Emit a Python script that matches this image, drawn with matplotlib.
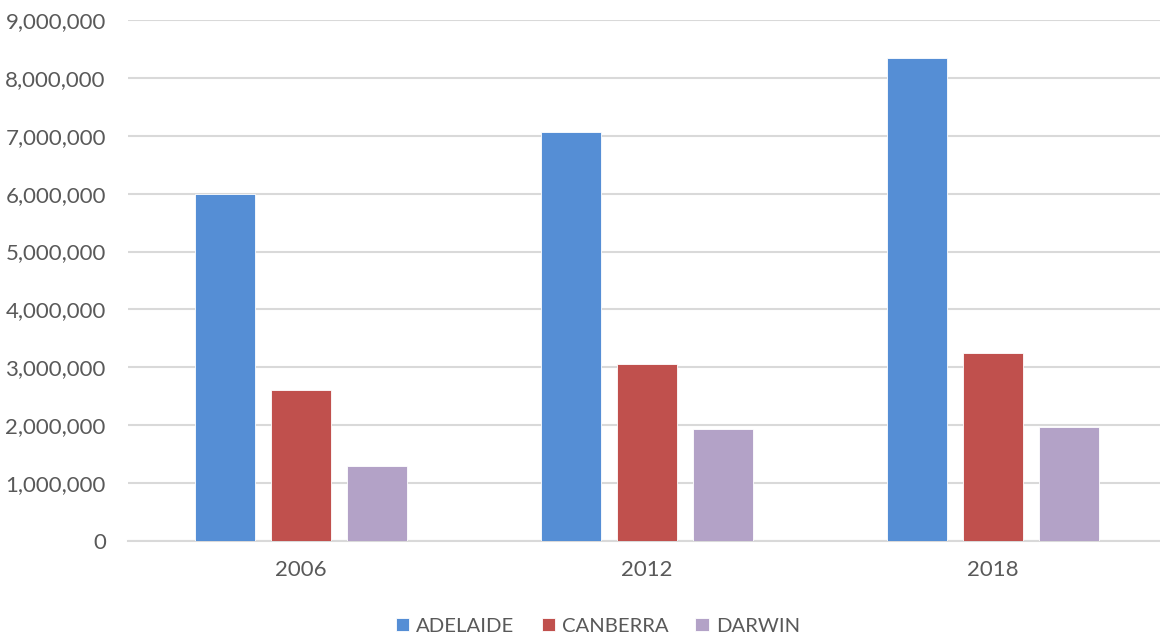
import matplotlib.pyplot as plt
import numpy as np
from matplotlib.ticker import FuncFormatter

years = ["2006", "2012", "2018"]
adelaide = [5990000, 7064000, 8346000]
canberra = [2606000, 3064000, 3250000]
darwin = [1300000, 1940000, 1970000]

series = [("ADELAIDE", adelaide, "#558ed5"),
          ("CANBERRA", canberra, "#c0504d"),
          ("DARWIN", darwin, "#b3a2c7")]

plt.rcParams['font.family'] = ['Lato', 'DejaVu Sans']
grey = "#595959"

fig = plt.figure(figsize=(11.6, 6.37), dpi=100)
ax = fig.add_axes([128 / 1160, 96 / 637, 1038 / 1160, 521 / 637])

x = np.arange(len(years))
w = 0.1735
step = 0.221
for i, (name, vals, col) in enumerate(series):
    ax.bar(x + (i - 1) * step, vals, w, color=col, label=name,
           edgecolor="white", linewidth=0.6, zorder=3)

ax.set_xlim(-0.5, 2.5)
ax.set_ylim(0, 9000000)
ax.set_yticks(np.arange(0, 9000001, 1000000))
ax.yaxis.set_major_formatter(FuncFormatter(lambda v, p: f"{int(v):,}"))
ax.set_xticks(x)
ax.set_xticklabels(years)
ax.grid(axis="y", color="#d9d9d9", linewidth=1.5, zorder=0)
for s in ["top", "right", "left"]:
    ax.spines[s].set_visible(False)
ax.spines["bottom"].set_color("#d9d9d9")
ax.spines["bottom"].set_linewidth(1.5)
ax.tick_params(axis="both", length=0, labelsize=16, labelcolor=grey)
ax.tick_params(axis="y", pad=16)
ax.tick_params(axis="x", pad=14)

leg = fig.legend(loc="center", bbox_to_anchor=(598 / 1160, 11 / 637), ncol=3,
                 frameon=False, fontsize=14.6, handlelength=0.65, handleheight=0.65,
                 handletextpad=0.35, columnspacing=1.33)
for t in leg.get_texts():
    t.set_color(grey)

fig.savefig("out.png", dpi=100)
